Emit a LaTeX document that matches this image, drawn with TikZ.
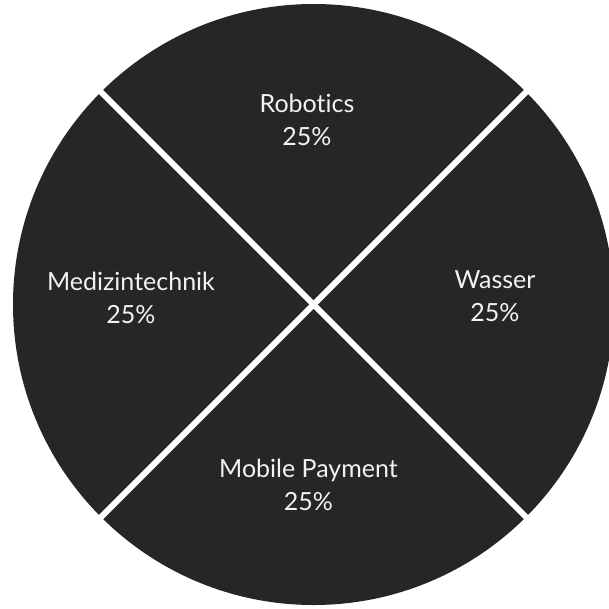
\documentclass[tikz,border=0pt]{standalone}
\usepackage{fontspec}
\setmainfont{Lato}[Ligatures=NoCommon]
\definecolor{slice}{HTML}{262626}
\definecolor{labeltext}{HTML}{F2F2F2}

\begin{document}
\begin{tikzpicture}[x=1pt,y=-1pt]
  \tikzstyle{every node}+=[inner sep=0pt, text=labeltext, align=center, font=\fontsize{25}{33}\selectfont]
  \useasboundingbox (0,0) rectangle (609,608);
  \fill [slice] (313.5,304.5) circle (300.5);
  \draw [white, line width=6pt] (93.5,84.5) -- (533.5,524.5);
  \draw [white, line width=6pt] (533.5,84.5) -- (93.5,524.5);
  \node (robotics) at (307,119.5) {Robotics\\25\%};
  \node (medizin) at (131,298) {Medizintechnik\\25\%};
  \node (wasser) at (495,296) {Wasser\\25\%};
  \node (payment) at (308.5,484.5) {Mobile Payment\\25\%};
\end{tikzpicture}
\end{document}
